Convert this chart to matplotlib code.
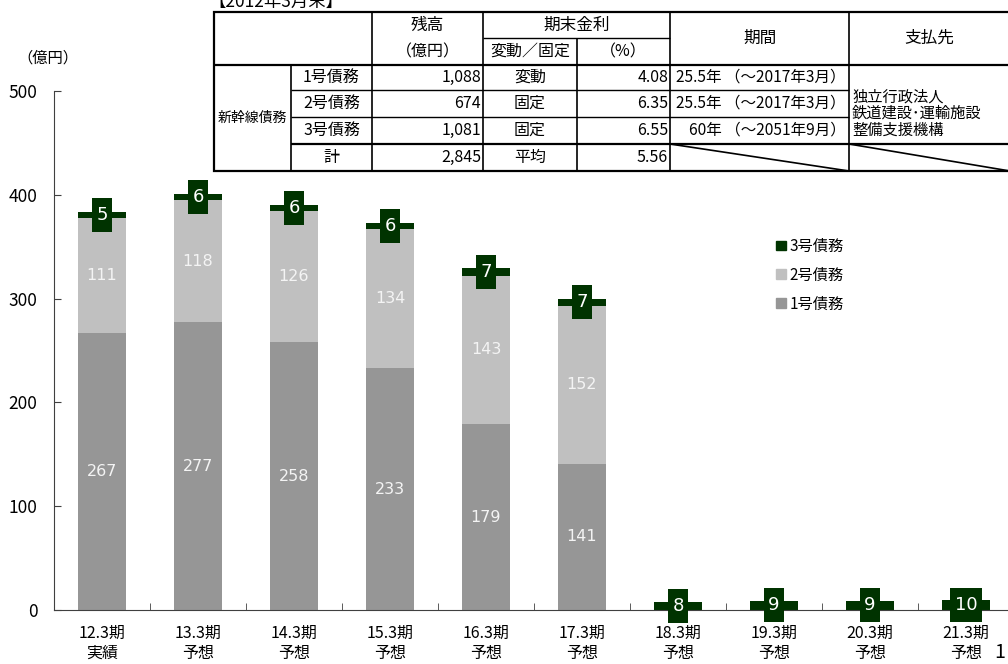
import numpy as np
import matplotlib.pyplot as plt
from matplotlib.patches import Patch, Rectangle
from matplotlib.path import Path

plt.rcParams['font.family'] = ['Noto Sans CJK JP', 'DejaVu Sans']

# chart data
periods = ['12.3期', '13.3期', '14.3期', '15.3期', '16.3期',
           '17.3期', '18.3期', '19.3期', '20.3期', '21.3期']
kinds = ['実績', '予想', '予想', '予想', '予想',
         '予想', '予想', '予想', '予想', '予想']
debt1 = [267, 277, 258, 233, 179, 141, 0, 0, 0, 0]
debt2 = [111, 118, 126, 134, 143, 152, 0, 0, 0, 0]
debt3 = [5, 6, 6, 6, 7, 7, 8, 9, 9, 10]
series_names = ['1号債務', '2号債務', '3号債務']

# table data
tbl_names = ['1号債務', '2号債務', '3号債務', '計']
tbl_balance = ['1,088', '674', '1,081', '2,845']
tbl_type = ['変動', '固定', '固定', '平均']
tbl_rate = ['4.08', '6.35', '6.55', '5.56']
tbl_term = ['25.5年 （～2017年3月）', '25.5年 （～2017年3月）', '60年 （～2051年9月）']
tbl_payee = ['独立行政法人', '鉄道建設･運輸施設', '整備支援機構']

c1 = '#969696'
c2 = '#c0c0c0'
c3 = '#003300'

W, H = 1008, 664
fig = plt.figure(figsize=(W / 100, H / 100), dpi=100)
ax = fig.add_axes([54 / W, 54 / H, 960 / W, 519 / H])

x = np.arange(len(periods))
b1 = np.array(debt1)
b2 = np.array(debt2)
b3 = np.array(debt3)
ax.bar(x, b1, 0.5, color=c1, label=series_names[0])
ax.bar(x, b2, 0.5, bottom=b1, color=c2, label=series_names[1])
ax.bar(x, b3, 0.5, bottom=b1 + b2, color=c3, label=series_names[2])


def box_marker(label):
    # tall dark box behind the 3号 value, wider for two digits
    w = 0.29 if len(label) == 1 else 0.485
    verts = [(-w, -0.5), (w, -0.5), (w, 0.5), (-w, 0.5), (-w, -0.5)]
    codes = [Path.MOVETO] + [Path.LINETO] * 3 + [Path.CLOSEPOLY]
    return Path(verts, codes)


# segment labels
for i in x:
    if b1[i] > 0:
        ax.text(i, b1[i] / 2, str(b1[i]), ha='center', va='center',
                color='#f4f4f4', fontsize=11.5, family='DejaVu Sans')
    if b2[i] > 0:
        ax.text(i, b1[i] + b2[i] / 2, str(b2[i]), ha='center', va='center',
                color='#f4f4f4', fontsize=11.5, family='DejaVu Sans')
    yc = b1[i] + b2[i] + b3[i] / 2
    lab = str(b3[i])
    ax.plot(i, yc, marker=box_marker(lab), markersize=24, color=c3,
            markeredgewidth=0, zorder=3, clip_on=False)
    ax.text(i, yc, lab, ha='center', va='center', color='white',
            fontsize=13, family='DejaVu Sans', zorder=4)

ax.set_xlim(-0.5, len(periods) - 0.5)
ax.set_ylim(0, 500)
ax.set_yticks(range(0, 501, 100))
ax.tick_params(axis='y', direction='in', length=5, labelsize=12.5, pad=12,
               color='#404040')
ax.set_xticks(x)
ax.set_xticklabels([p + '\n' + k for p, k in zip(periods, kinds)],
                   fontsize=11.5, linespacing=1.2)
ax.tick_params(axis='x', length=0, pad=11)
ax.set_xticks(np.arange(-0.5, len(periods)), minor=True)
ax.tick_params(axis='x', which='minor', direction='in', length=5,
               color='#404040')
for s in ['top', 'right']:
    ax.spines[s].set_visible(False)
for s in ['left', 'bottom']:
    ax.spines[s].set_color('#404040')

handles = [Patch(color=c3, label=series_names[2]),
           Patch(color=c2, label=series_names[1]),
           Patch(color=c1, label=series_names[0])]
ax.legend(handles=handles, loc='upper left', bbox_to_anchor=(762 / W, 1 - 224 / H),
          bbox_transform=fig.transFigure, frameon=False, fontsize=11,
          handlelength=0.65, handleheight=0.6, handletextpad=0.25,
          labelspacing=0.78)

fig.text(48 / W, 1 - 58 / H, '（億円）', ha='center', va='center', fontsize=11)
fig.text(1000 / W, 1 - 652 / H, '1', ha='center', va='center', fontsize=14)
fig.text(208 / W, 1 - 7 / H, '【2012年3月末】', ha='left', va='baseline',
         fontsize=12.5)

# table overlay in pixel coordinates
ov = fig.add_axes([0, 0, 1, 1], facecolor='none')
ov.set_xlim(0, W)
ov.set_ylim(H, 0)
ov.axis('off')

cx = [214, 291, 372, 483, 577, 670, 849, 1010]
ry = [12, 38, 65, 90, 117, 144, 171]
ov.add_patch(Rectangle((cx[0], ry[0]), cx[-1] - cx[0], ry[-1] - ry[0],
                       fc='white', ec='black', lw=1.6))


def hline(y, xa, xb, lw=1.0):
    ov.plot([xa, xb], [y, y], color='black', lw=lw, solid_capstyle='butt')


def vline(xx, ya, yb, lw=1.2):
    ov.plot([xx, xx], [ya, yb], color='black', lw=lw, solid_capstyle='butt')


hline(ry[1], cx[3], cx[5])
hline(ry[2], cx[0], cx[7], lw=1.6)
for r in [3, 4]:
    hline(ry[r], cx[1], cx[6])
hline(ry[5], cx[1], cx[7], lw=1.6)
vline(cx[1], ry[2], ry[6])
for c in [2, 3, 5, 6]:
    vline(cx[c], ry[0], ry[6])
vline(cx[4], ry[1], ry[6])
ov.plot([cx[5], cx[6]], [ry[5], ry[6]], color='black', lw=1.2)
ov.plot([cx[6], cx[7]], [ry[5], ry[6]], color='black', lw=1.2)

fs = 11.5
hs = 12
ov.text((cx[2] + cx[3]) / 2, (ry[0] + ry[1]) / 2, '残高', ha='center', va='center', fontsize=hs)
ov.text((cx[2] + cx[3]) / 2, (ry[1] + ry[2]) / 2, '（億円）', ha='center', va='center', fontsize=fs)
ov.text((cx[3] + cx[5]) / 2, (ry[0] + ry[1]) / 2, '期末金利', ha='center', va='center', fontsize=hs)
ov.text((cx[3] + cx[4]) / 2, (ry[1] + ry[2]) / 2, '変動／固定', ha='center', va='center', fontsize=fs)
ov.text((cx[4] + cx[5]) / 2, (ry[1] + ry[2]) / 2, '（%）', ha='center', va='center', fontsize=fs)
ov.text((cx[5] + cx[6]) / 2, (ry[0] + ry[2]) / 2, '期間', ha='center', va='center', fontsize=hs)
ov.text((cx[6] + cx[7]) / 2, (ry[0] + ry[2]) / 2, '支払先', ha='center', va='center', fontsize=hs)
ov.text((cx[0] + cx[1]) / 2, (ry[2] + ry[6]) / 2, '新幹線債務', ha='center', va='center', fontsize=10)

for r in range(4):
    yc = (ry[r + 2] + ry[r + 3]) / 2
    ov.text((cx[1] + cx[2]) / 2, yc, tbl_names[r], ha='center', va='center', fontsize=fs)
    ov.text(cx[3] - 2, yc, tbl_balance[r], ha='right', va='center', fontsize=fs)
    ov.text((cx[3] + cx[4]) / 2, yc, tbl_type[r], ha='center', va='center', fontsize=fs)
    ov.text(cx[5] - 2, yc, tbl_rate[r], ha='right', va='center', fontsize=fs)
    if r < 3:
        ov.text(cx[6] - 3, yc, tbl_term[r], ha='right', va='center', fontsize=11.2)
for k, line in enumerate(tbl_payee):
    ov.text(cx[6] + 3, 97 + k * 16.5, line, ha='left', va='center', fontsize=11)

fig.savefig('out.png', dpi=100)
